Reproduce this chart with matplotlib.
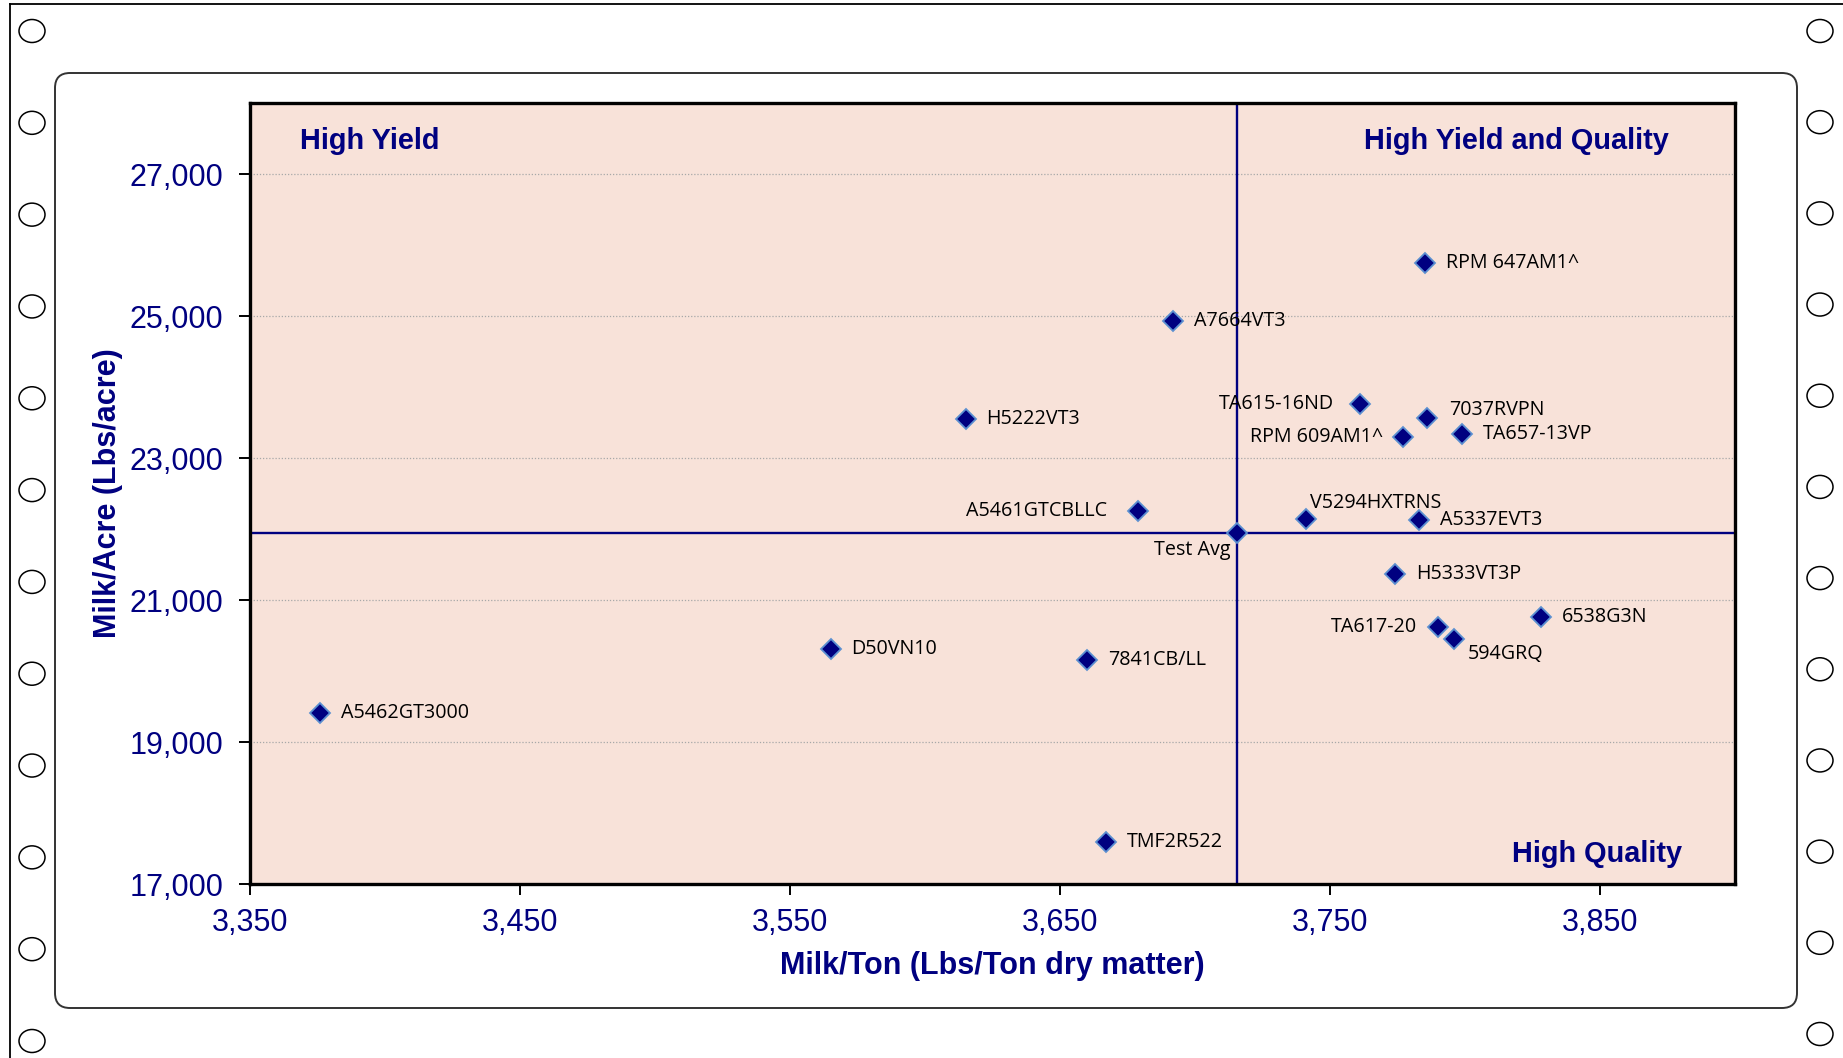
import matplotlib
matplotlib.use("Agg")
import matplotlib.pyplot as plt
import numpy as np
from matplotlib.patches import Ellipse, FancyBboxPatch
from matplotlib.lines import Line2D
from matplotlib.ticker import StrMethodFormatter

# hybrid data: milk per ton (x) and milk per acre (y)
hybrids = ["RPM 647AM1^", "A7664VT3", "H5222VT3", "TA615-16ND", "7037RVPN",
           "RPM 609AM1^", "TA657-13VP", "A5461GTCBLLC", "V5294HXTRNS", "A5337EVT3",
           "H5333VT3P", "6538G3N", "TA617-20", "594GRQ", "D50VN10",
           "7841CB/LL", "A5462GT3000", "TMF2R522"]
milk_ton = [3785, 3692, 3615, 3761, 3786, 3777, 3799, 3679, 3741, 3783,
            3774, 3828, 3790, 3796, 3565, 3660, 3376, 3667]
milk_acre = [25740, 24930, 23555, 23757, 23560, 23290, 23345, 22258, 22145, 22130,
             21360, 20757, 20625, 20450, 20310, 20160, 19415, 17595]
avg_label = "Test Avg"
avg_ton = 3715.5
avg_acre = 21945

x_ticks = [3350, 3450, 3550, 3650, 3750, 3850]
y_ticks = [17000, 19000, 21000, 23000, 25000, 27000]

NAVY = "#000080"
W, H, DPI = 1843, 1058, 100

# label offsets in pixels (dx, dy, ha); default is right of the point
label_pos = {
    "TA615-16ND": (-26, 0, "right"),
    "RPM 609AM1^": (-20, 0, "right"),
    "A5461GTCBLLC": (-31, 0, "right"),
    "TA617-20": (-21, 0, "right"),
    "V5294HXTRNS": (4, 16, "left"),
    "594GRQ": (14, -15, "left"),
    "7037RVPN": (22, 8, "left"),
    avg_label: (-6, -17, "right"),
}

fig = plt.figure(figsize=(W / DPI, H / DPI), dpi=DPI)
fig.patch.set_facecolor("white")


def px(x, y):
    # pixel coords (top-left origin) -> inches for dpi_scale_trans
    return x / DPI, (H - y) / DPI


# page decoration: frame lines, binder holes, rounded chart box
fig.add_artist(Line2D([9.5 / DPI, 9.5 / DPI], [0, (H - 4) / DPI],
                      transform=fig.dpi_scale_trans, color="black", lw=1.3, zorder=-2))
fig.add_artist(Line2D([9.5 / DPI, W / DPI], [(H - 4) / DPI] * 2,
                      transform=fig.dpi_scale_trans, color="black", lw=1.3, zorder=-2))
for cx, y0, y1 in [(32, 31, 1041), (1820, 31, 1034)]:
    for cy in np.linspace(y0, y1, 12):
        fig.add_artist(Ellipse(px(cx, cy), 26 / DPI, 23 / DPI,
                               transform=fig.dpi_scale_trans, zorder=-2,
                               facecolor="white", edgecolor="black", lw=1.1))
bx0, by0 = px(55, 1008)
bx1, by1 = px(1797, 73)
fig.add_artist(FancyBboxPatch((bx0 + 0.15, by0 + 0.15), bx1 - bx0 - 0.3, by1 - by0 - 0.3,
                              boxstyle="round,pad=0.15", transform=fig.dpi_scale_trans,
                              facecolor="white", edgecolor="#333333", lw=1.4, zorder=-1))

ax = fig.add_axes([250 / W, (H - 884) / H, (1735 - 250) / W, (884 - 103) / H])
ax.set_facecolor("#F8E2D9")
ax.set_xlim(3350, 3900)
ax.set_ylim(17000, 28000)
ax.set_xticks(x_ticks)
ax.set_yticks(y_ticks)
ax.xaxis.set_major_formatter(StrMethodFormatter("{x:,.0f}"))
ax.yaxis.set_major_formatter(StrMethodFormatter("{x:,.0f}"))
ax.tick_params(axis="both", direction="out", length=8, width=1.4, color="black",
               labelcolor=NAVY, labelsize=22, labelfontfamily="Liberation Sans")
ax.tick_params(axis="y", pad=11)
ax.tick_params(axis="x", pad=9)
ax.grid(axis="y", linestyle=(0, (1, 1.5)), color="#A8A8A8", lw=0.9)
ax.set_axisbelow(True)
for sp in ax.spines.values():
    sp.set_color("black")
    sp.set_linewidth(2.4)

# test average cross-hair
ax.axvline(avg_ton, color=NAVY, lw=1.7, zorder=2)
ax.axhline(avg_acre, color=NAVY, lw=1.7, zorder=2)

all_x = milk_ton + [avg_ton]
all_y = milk_acre + [avg_acre]
all_names = hybrids + [avg_label]
ax.plot(all_x, all_y, linestyle="none", marker="D", markersize=10,
        markerfacecolor=NAVY, markeredgecolor="#5B8FD0", markeredgewidth=1.3, zorder=3)

for name, xv, yv in zip(all_names, all_x, all_y):
    dx, dy, ha = label_pos.get(name, (21, 0, "left"))
    ax.annotate(name, (xv, yv), xytext=(dx, dy), textcoords="offset pixels",
                ha=ha, va="center", fontsize=14.2, fontfamily="Open Sans",
                color="black", zorder=4)

qfont = dict(fontsize=20.8, fontweight="bold", color=NAVY, fontfamily="Liberation Sans")
ax.text(0.0337, 0.951, "High Yield", transform=ax.transAxes, ha="left", va="center", **qfont)
ax.text(0.9556, 0.951, "High Yield and Quality", transform=ax.transAxes,
        ha="right", va="center", **qfont)
ax.text(0.9643, 0.0385, "High Quality", transform=ax.transAxes,
        ha="right", va="center", **qfont)

lfont = dict(fontsize=22, fontweight="bold", color=NAVY, fontfamily="Liberation Sans")
ax.set_xlabel("Milk/Ton (Lbs/Ton dry matter)", **lfont)
ax.set_ylabel("Milk/Acre (Lbs/acre)", **lfont)
ax.xaxis.set_label_coords(0.5, -0.0855)
ax.yaxis.set_label_coords(-0.0852, 0.5)
ax.xaxis.label.set_va("top")
ax.yaxis.label.set_va("bottom")

fig.savefig("out.png", dpi=DPI)
